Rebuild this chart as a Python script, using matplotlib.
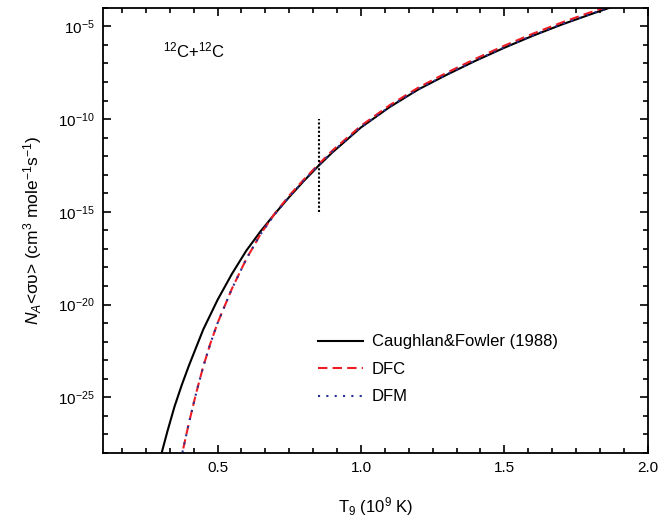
import numpy as np
import matplotlib
matplotlib.use('Agg')
import matplotlib.pyplot as plt
from matplotlib import ticker

plt.rcParams['font.family'] = ['Liberation Sans', 'DejaVu Sans']
plt.rcParams['mathtext.fontset'] = 'custom'
plt.rcParams['mathtext.rm'] = 'Liberation Sans'
plt.rcParams['mathtext.it'] = 'Liberation Sans:italic'
plt.rcParams['mathtext.default'] = 'regular'

# rates, stored as log10(N_A<sigma v>)
t9_cf = [0.29, 0.30, 0.325, 0.35, 0.375, 0.40, 0.45, 0.50, 0.55, 0.60,
         0.65, 0.70, 0.75, 0.80, 0.85, 0.90, 1.00, 1.10, 1.20, 1.30, 1.40,
         1.50, 1.60, 1.70, 1.80, 1.90]
log_cf = [-28.9, -28.3, -26.85, -25.5, -24.35, -23.3, -21.35, -19.75,
          -18.35, -17.1, -16.05, -15.1, -14.2, -13.35, -12.55, -11.8,
          -10.45, -9.35, -8.4, -7.6, -6.85, -6.15, -5.5, -4.9, -4.35, -3.82]

t9_df = [0.36, 0.38, 0.40, 0.425, 0.45, 0.475, 0.50, 0.55, 0.60, 0.65,
         0.70, 0.75, 0.80, 0.85, 0.90, 1.00, 1.10, 1.20, 1.30, 1.40, 1.50,
         1.60, 1.70, 1.80, 1.90]
log_dfc = [-29.3, -27.8, -26.4, -24.8, -23.35, -22.1, -21.0, -19.15,
           -17.55, -16.2, -15.08, -14.12, -13.27, -12.47, -11.7, -10.36,
           -9.25, -8.3, -7.49, -6.74, -6.04, -5.39, -4.79, -4.24, -3.71]
log_dfm = [-29.3, -27.8, -26.4, -24.8, -23.35, -22.1, -21.0, -19.15,
           -17.55, -16.2, -15.12, -14.18, -13.33, -12.52, -11.77, -10.43,
           -9.33, -8.38, -7.58, -6.83, -6.13, -5.48, -4.88, -4.33, -3.8]

t9_mark = 0.855
mark_range = [1e-15, 1e-10]

fig = plt.figure(figsize=(6.59, 5.23), dpi=100)
ax = fig.add_axes([0.156, 0.134, 0.827, 0.851])

ax.plot(t9_cf, 10.0 ** np.array(log_cf), color='k', lw=1.5,
        label='Caughlan&Fowler (1988)')
ax.plot(t9_df, 10.0 ** np.array(log_dfc), color='#ee1c24', lw=1.5,
        ls=(0, (4.5, 2.5)), label='DFC')
ax.plot(t9_df, 10.0 ** np.array(log_dfm), color='#2b2e8f', lw=1.5,
        ls=(0, (1, 3)), label='DFM')
ax.plot([t9_mark, t9_mark], mark_range, color='k', lw=1.5, ls=(0, (1, 1)))

ax.set_yscale('log')
ax.set_xlim(0.1, 2.0)
ax.set_ylim(1e-28, 1e-4)

ax.set_xticks([0.5, 1.0, 1.5, 2.0])
ax.set_xticklabels(['0.5', '1.0', '1.5', '2.0'])
ax.xaxis.set_minor_locator(ticker.MultipleLocator(0.5 / 6))
ax.set_yticks([10.0 ** k for k in range(-25, -4, 5)])
ax.set_yticks([10.0 ** k for k in range(-28, -3) if k % 5], minor=True)
ax.yaxis.set_major_formatter(ticker.LogFormatterSciNotation())
ax.yaxis.set_minor_formatter(ticker.NullFormatter())

ax.tick_params(which='both', direction='in', top=True, right=True,
               width=1.2, labelsize=11, pad=6)
ax.tick_params(which='major', length=6)
ax.tick_params(which='minor', length=3.5)
for s in ax.spines.values():
    s.set_linewidth(1.3)

ax.set_xlabel(r'T$_9$ (10$^9$ K)', fontsize=12, labelpad=14)
ax.set_ylabel(r'$\it{N}_{\it{A}}$<συ> (cm$^3$ mole$^{-1}$s$^{-1}$)',
              fontsize=12.5, labelpad=10)

ax.text(0.11, 0.905, r'$^{12}$C+$^{12}$C', transform=ax.transAxes,
        fontsize=12, va='center')

ax.legend(loc='upper left', bbox_to_anchor=(0.367, 0.30), frameon=False,
          fontsize=12, handlelength=2.7, handletextpad=0.55,
          labelspacing=0.75)

fig.savefig('out.png', dpi=100)
